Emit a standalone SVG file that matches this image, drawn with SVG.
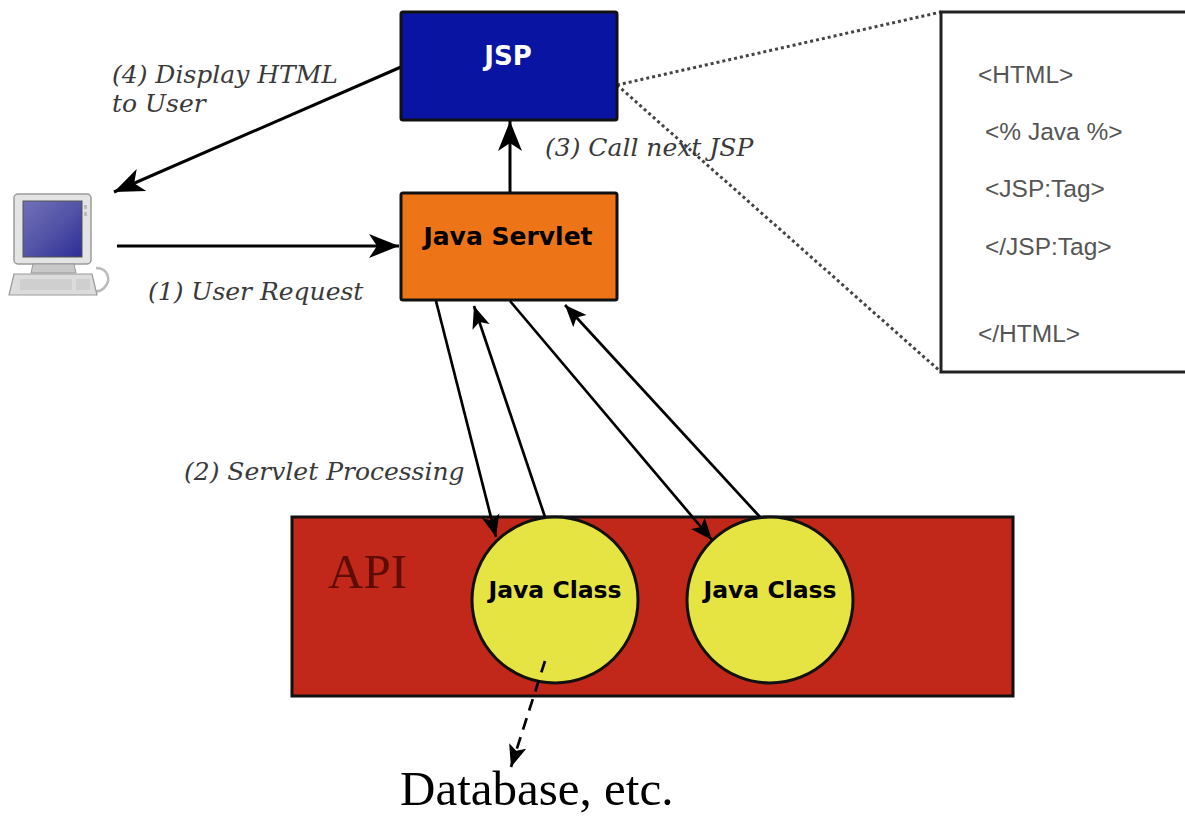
<svg xmlns="http://www.w3.org/2000/svg" width="1185" height="816" viewBox="0 0 1185 816">
<defs>
<style>
.lbl{font-family:"DejaVu Serif",serif;font-style:italic;font-size:25px;fill:#3a3a3a}
.bold{font-family:"DejaVu Sans",sans-serif;font-weight:bold}
.code{font-family:"Liberation Sans",Arial,sans-serif;font-size:24.5px;fill:#555}
.ser{font-family:"Liberation Serif","Times New Roman",serif}
.conn{stroke:#000;stroke-width:3;fill:none}
.thin{stroke:#000;stroke-width:2.7;fill:none}
</style>
<marker id="big" markerUnits="userSpaceOnUse" markerWidth="32" markerHeight="28" viewBox="0 -14 32 28" refX="30" refY="0" orient="auto">
<path d="M30,0 L0,-12 L8,0 L0,12 Z" fill="#000"/>
</marker>
<marker id="sm" markerUnits="userSpaceOnUse" markerWidth="24" markerHeight="20" viewBox="0 -10 24 20" refX="22" refY="0" orient="auto">
<path d="M22,0 L0,-9 L5,0 L0,9 Z" fill="#000"/>
</marker>
<linearGradient id="scr" x1="0" y1="0" x2="1" y2="1">
<stop offset="0" stop-color="#7070b8"/>
<stop offset="0.5" stop-color="#5454a8"/>
<stop offset="1" stop-color="#2c2c96"/>
</linearGradient>
</defs>
<rect width="1185" height="816" fill="#fff"/>

<g id="connectors">
<line class="conn" x1="401" y1="67" x2="114" y2="192" marker-end="url(#big)"/>
<line class="conn" x1="510" y1="193" x2="510" y2="121" marker-end="url(#big)"/>
<line class="conn" x1="117" y1="246" x2="399" y2="246" marker-end="url(#big)"/>
<line stroke="#444" stroke-width="3" stroke-dasharray="3,3" x1="617" y1="85" x2="941" y2="12"/>
<line stroke="#444" stroke-width="3" stroke-dasharray="3,3" x1="617" y1="85" x2="941" y2="372"/>
</g>

<g id="jsp">
<rect x="401" y="12" width="216" height="108" rx="2" fill="#0a14a2" stroke="#111" stroke-width="3"/>
<text class="bold" x="508" y="65" font-size="26" fill="#fff" text-anchor="middle">JSP</text>
</g>

<g id="servlet">
<rect x="401" y="193" width="216" height="107" rx="2" fill="#ee7418" stroke="#111" stroke-width="3"/>
<text class="bold" x="508" y="245" font-size="25" fill="#000" text-anchor="middle">Java Servlet</text>
</g>

<g id="code">
<rect x="941" y="12" width="260" height="360" fill="#fff" stroke="#222" stroke-width="3"/>
<text class="code" x="978" y="83">&lt;HTML&gt;</text>
<text class="code" x="985" y="140">&lt;% Java %&gt;</text>
<text class="code" x="985" y="197">&lt;JSP:Tag&gt;</text>
<text class="code" x="985" y="255">&lt;/JSP:Tag&gt;</text>
<text class="code" x="978" y="342">&lt;/HTML&gt;</text>
</g>

<g id="api">
<rect x="292" y="517" width="721" height="179" fill="#c2281a" stroke="#111" stroke-width="3"/>
<text class="ser" x="328" y="588" font-size="49" fill="#5e0c06">API</text>
</g>

<g id="class1">
<circle cx="555" cy="600" r="83" fill="#e6e442" stroke="#111" stroke-width="3"/>
<text class="bold" x="555" y="598" font-size="23.5" fill="#000" text-anchor="middle">Java Class</text>
</g>
<g id="class2">
<circle cx="770" cy="600" r="83" fill="#e6e442" stroke="#111" stroke-width="3"/>
<text class="bold" x="770" y="598" font-size="23.5" fill="#000" text-anchor="middle">Java Class</text>
</g>

<g id="connectors2">
<line class="thin" x1="436" y1="301" x2="496" y2="537" marker-end="url(#sm)"/>
<line class="thin" x1="545" y1="517" x2="474" y2="306" marker-end="url(#sm)"/>
<line class="thin" x1="510" y1="301" x2="712" y2="540" marker-end="url(#sm)"/>
<line class="thin" x1="760" y1="517" x2="565" y2="305" marker-end="url(#sm)"/>
<line class="thin" stroke-dasharray="12,8" x1="545" y1="661" x2="511" y2="767" marker-end="url(#sm)"/>
</g>

<g id="computer">
<path d="M96,268 C108,268 112,280 104,288 C100,292 96,292 92,290" fill="none" stroke="#bbb" stroke-width="2.5"/>
<rect x="14" y="194" width="77" height="70" rx="4" fill="#e4e4e4" stroke="#9a9a9a" stroke-width="1.5"/>
<rect x="23" y="201" width="59" height="56" fill="url(#scr)" stroke="#555" stroke-width="1"/>
<rect x="84" y="205" width="3" height="4" fill="#bbb"/>
<rect x="84" y="212" width="3" height="4" fill="#bbb"/>
<path d="M33,264 L74,264 L76,273 L31,273 Z" fill="#c8c8c8" stroke="#999" stroke-width="1"/>
<path d="M14,274 L92,274 L97,295 L9,295 Z" fill="#dcdcdc" stroke="#999" stroke-width="1.2"/>
<rect x="20" y="279" width="52" height="11" fill="#cfcfcf"/>
<rect x="76" y="279" width="14" height="11" fill="#cfcfcf"/>
</g>

<g id="labels">
<text class="lbl" x="112" y="83">(4) Display HTML</text>
<text class="lbl" x="112" y="112">to User</text>
<text class="lbl" x="545" y="156">(3) Call next JSP</text>
<text class="lbl" x="148" y="300">(1) User Request</text>
<text class="lbl" x="184" y="480">(2) Servlet Processing</text>
<text class="ser" x="400" y="805" font-size="49" fill="#000">Database, etc.</text>
</g>
</svg>
